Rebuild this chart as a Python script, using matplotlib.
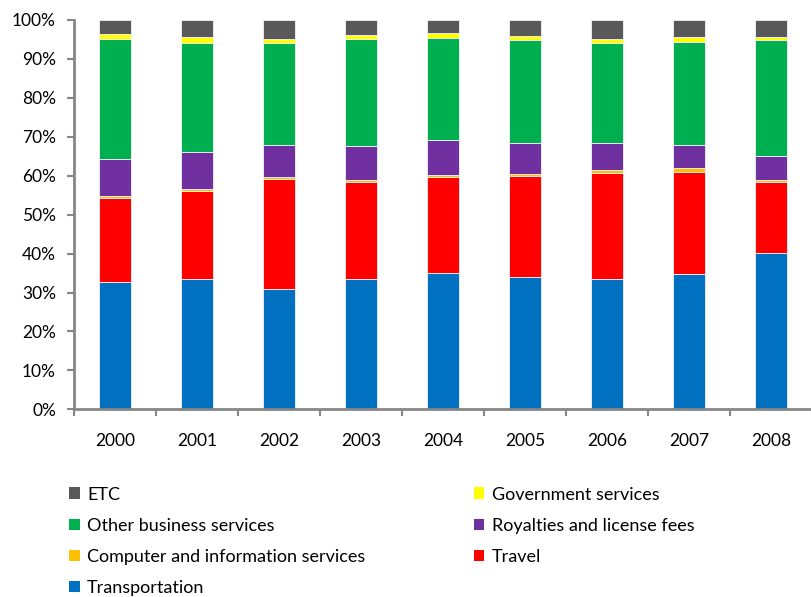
import numpy as np
import matplotlib
matplotlib.use("Agg")
import matplotlib.pyplot as plt
from matplotlib.patches import Patch
from matplotlib.ticker import PercentFormatter, FixedLocator

plt.rcParams['font.family'] = ['Lato', 'DejaVu Sans']

years = ['2000', '2001', '2002', '2003', '2004', '2005', '2006', '2007', '2008']

# share of each service category, percent
transportation = [32.8, 33.5, 30.8, 33.5, 35.0, 34.0, 33.5, 34.7, 40.1]
travel         = [21.6, 22.7, 28.4, 25.0, 24.7, 26.0, 27.3, 26.3, 18.4]
computer       = [0.3, 0.4, 0.5, 0.4, 0.4, 0.4, 0.7, 1.0, 0.4]
royalties      = [9.5, 9.4, 8.3, 8.7, 9.0, 7.9, 6.8, 6.0, 6.2]
other_business = [30.9, 28.0, 26.0, 27.5, 26.4, 26.5, 25.8, 26.4, 29.7]
government     = [1.2, 1.6, 1.2, 1.0, 1.2, 1.2, 1.1, 1.2, 0.8]
etc            = [3.7, 4.4, 4.8, 3.9, 3.3, 4.0, 4.8, 4.4, 4.4]

series = [
    ('Transportation', transportation, '#0070C0'),
    ('Travel', travel, '#FF0000'),
    ('Computer and information services', computer, '#FFC000'),
    ('Royalties and license fees', royalties, '#7030A0'),
    ('Other business services', other_business, '#00B050'),
    ('Government services', government, '#FFFF00'),
    ('ETC', etc, '#595959'),
]

fig = plt.figure(figsize=(8.12, 5.97), dpi=100)
ax = fig.add_axes([0.0911, 0.3144, 0.9089, 0.6521])

x = np.arange(len(years))
bottom = np.zeros(len(years))
for name, vals, col in series:
    vals = np.array(vals)
    ax.bar(x, vals, 0.4, bottom=bottom, color=col, edgecolor='#f4f4f4',
           linewidth=0.6, label=name)
    bottom += vals

ax.set_ylim(0, 100)
ax.set_xlim(-0.5, 8.37)
ax.yaxis.set_major_locator(FixedLocator(np.arange(0, 101, 10)))
ax.yaxis.set_major_formatter(PercentFormatter(decimals=0))
ax.set_xticks(x)
ax.set_xticklabels(years)
ax.set_xticks(np.arange(-0.5, 9, 1), minor=True)
ax.tick_params(axis='x', which='major', length=0, pad=17, labelsize=12.5)
ax.tick_params(axis='x', which='minor', length=5, width=1.5, color='#868686')
ax.tick_params(axis='y', length=5, width=1.5, color='#868686', labelsize=12.5, pad=8)

for s in ['top', 'right']:
    ax.spines[s].set_visible(False)
for s in ['left', 'bottom']:
    ax.spines[s].set_color('#868686')
    ax.spines[s].set_linewidth(2)

# legend: two columns, top of stack first
order = ['ETC', 'Other business services', 'Computer and information services',
         'Transportation', 'Government services', 'Royalties and license fees', 'Travel']
colors = {n: c for n, _, c in series}
handles = [Patch(facecolor=colors[n], edgecolor='none', label=n) for n in order]
fig.legend(handles=handles, ncol=2, loc='upper left', bbox_to_anchor=(0.085, 0.185),
           frameon=False, fontsize=13, handlelength=0.6, handleheight=0.6,
           handletextpad=0.4, labelspacing=0.84, columnspacing=6.0,
           borderpad=0, borderaxespad=0)

fig.savefig('out.png', dpi=100)
